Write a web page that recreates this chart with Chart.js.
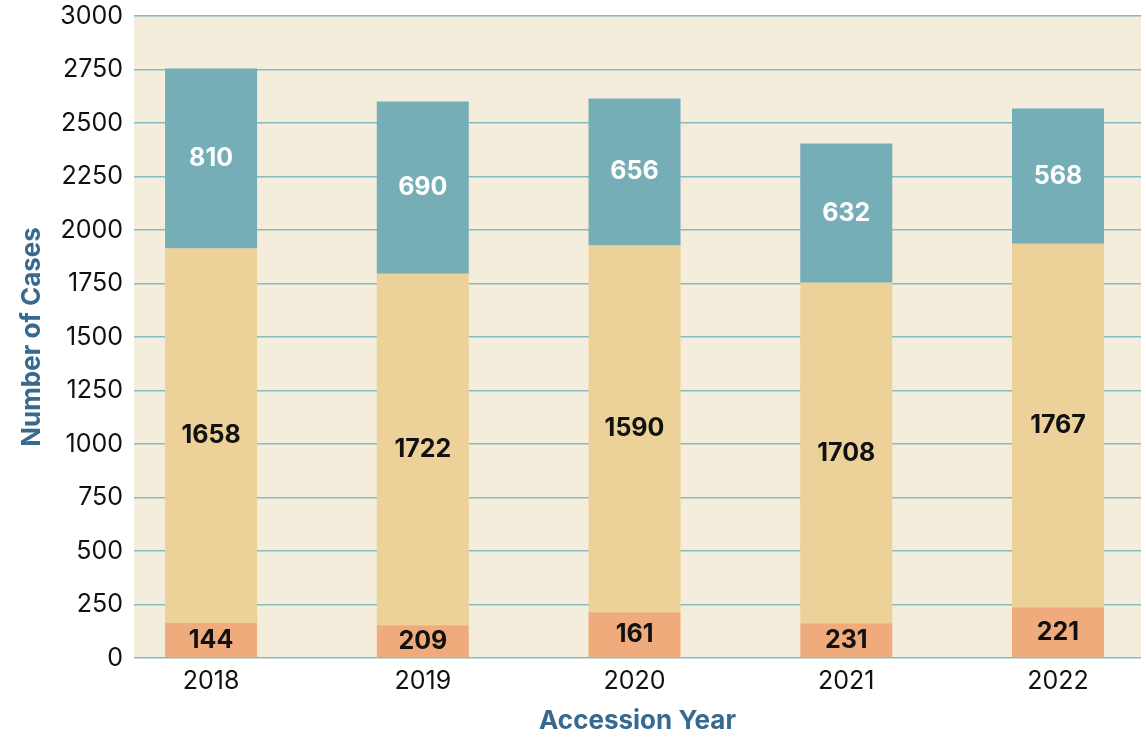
<!DOCTYPE html>
<html>
<head>
<meta charset="utf-8">
<script src="https://cdn.jsdelivr.net/npm/chart.js@4.4.0/dist/chart.umd.min.js"></script>
<style>
  html, body { margin: 0; padding: 0; background: #ffffff; }
  #wrap { width: 1146px; height: 737px; }
</style>
</head>
<body>
<div id="wrap"><canvas id="c" width="1146" height="737"></canvas></div>
<script>
// Categories (accession years)
const years = [2018, 2019, 2020, 2021, 2022];

// Segment heights as drawn in the picture (bottom, middle, top)
const bottomHeights = [164, 153, 214, 162, 237];
const middleHeights = [1749, 1643, 1714, 1592, 1699];
const topHeights = [842, 805, 687, 650, 632];

// Numbers printed on the segments
const bottomLabels = [144, 209, 161, 231, 221];
const middleLabels = [1658, 1722, 1590, 1708, 1767];
const topLabels = [810, 690, 656, 632, 568];

// Axis ticks
const yTicks = [0, 250, 500, 750, 1000, 1250, 1500, 1750, 2000, 2250, 2500, 2750, 3000];

const FONT = "Inter, 'Open Sans', sans-serif";

const plotBg = {
  id: 'plotBg',
  beforeDraw(chart) {
    const {ctx, chartArea: a} = chart;
    ctx.save();
    ctx.fillStyle = '#f5eddc';
    ctx.fillRect(a.left, a.top, a.right - a.left, a.bottom - a.top);
    ctx.restore();
  }
};

const segLabels = {
  id: 'segLabels',
  afterDatasetsDraw(chart) {
    const {ctx} = chart;
    ctx.save();
    ctx.font = "700 25px " + FONT;
    ctx.textAlign = 'center';
    ctx.textBaseline = 'middle';
    chart.data.datasets.forEach((ds, di) => {
      const meta = chart.getDatasetMeta(di);
      meta.data.forEach((el, i) => {
        const y = (el.y + el.base) / 2;
        ctx.fillStyle = ds.labelColor;
        ctx.fillText(String(ds.printed[i]), el.x, y);
      });
    });
    ctx.restore();
  }
};

new Chart(document.getElementById('c'), {
  type: 'bar',
  data: {
    labels: years,
    datasets: [
      { data: bottomHeights, printed: bottomLabels, backgroundColor: '#efab7b', labelColor: '#111111' },
      { data: middleHeights, printed: middleLabels, backgroundColor: '#ecd298', labelColor: '#111111' },
      { data: topHeights, printed: topLabels, backgroundColor: '#76aeb7', labelColor: '#ffffff' }
    ]
  },
  options: {
    responsive: false,
    animation: false,
    events: [],
    layout: { padding: { top: 16, right: 5, bottom: 0, left: 0 } },
    datasets: { bar: { barPercentage: 0.4345, categoryPercentage: 1.0, borderWidth: 0, clip: false } },
    plugins: { legend: { display: false }, tooltip: { enabled: false } },
    scales: {
      x: {
        type: 'linear',
        stacked: true,
        offset: false,
        min: 2017.636,
        max: 2022.392,
        afterBuildTicks(scale) { scale.ticks = years.map(v => ({ value: v })); },
        ticks: {
          callback: v => String(v),
          color: '#111111',
          font: { family: FONT, size: 25 },
          padding: 0,
          maxRotation: 0,
          autoSkip: false
        },
        grid: { display: false },
        border: { display: false },
        title: {
          display: true,
          text: 'Accession Year',
          color: '#376a8e',
          font: { family: FONT, size: 26, weight: '700' },
          padding: { top: 0, bottom: 0 }
        },
        afterFit(scale) { scale.height = 737 - 658; scale.paddingLeft = 0; scale.paddingRight = 0; }
      },
      y: {
        stacked: true,
        min: 0,
        max: 3000,
        afterBuildTicks(scale) { scale.ticks = yTicks.map(v => ({ value: v })); },
        ticks: {
          callback: v => String(v),
          color: '#111111',
          font: { family: FONT, size: 25 },
          padding: 11
        },
        grid: { color: '#86bbbf', lineWidth: 1.5, drawTicks: false },
        border: { display: false },
        title: {
          display: true,
          text: 'Number of Cases',
          color: '#376a8e',
          font: { family: FONT, size: 26, weight: '700' },
          padding: { top: 17, bottom: 0 }
        },
        afterFit(scale) { scale.width = 134; scale.paddingTop = 0; scale.paddingBottom = 0; }
      }
    }
  },
  plugins: [plotBg, segLabels]
});
</script>
</body>
</html>
